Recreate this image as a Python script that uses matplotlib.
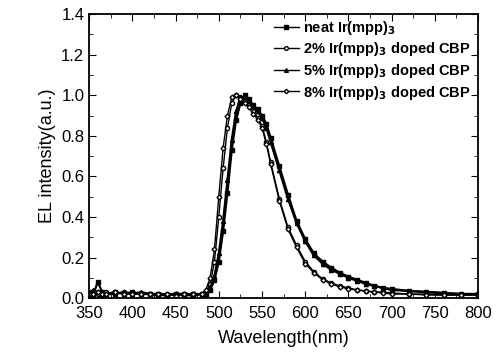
import matplotlib
matplotlib.use('Agg')
from matplotlib import pyplot as plt
from matplotlib.ticker import MultipleLocator

plt.rcParams['font.family'] = ['Liberation Sans', 'DejaVu Sans']

# wavelength grid (nm)
wavelength = [350, 355, 360, 365, 370, 380, 390, 400, 410, 420, 430, 440, 450, 460, 470, 480,
              485, 490, 495, 500, 505, 510, 515, 520, 525, 530, 535, 540, 545, 550, 555, 560,
              570, 580, 590, 600, 610, 620, 630, 640, 650, 660, 670, 680, 690, 700,
              720, 740, 760, 780, 800]

neat = [0.03, 0.02, 0.08, 0.03, 0.02, 0.03, 0.02, 0.03, 0.02, 0.02, 0.02, 0.01, 0.02, 0.02, 0.02, 0.02,
        0.02, 0.04, 0.09, 0.18, 0.33, 0.52, 0.73, 0.88, 0.96, 1.00, 0.98, 0.95, 0.93, 0.90, 0.86, 0.79,
        0.65, 0.51, 0.38, 0.29, 0.22, 0.18, 0.15, 0.125, 0.105, 0.09, 0.075, 0.06, 0.05, 0.045,
        0.035, 0.03, 0.025, 0.02, 0.02]
dop2 = [0.02, 0.03, 0.02, 0.01, 0.03, 0.02, 0.03, 0.02, 0.02, 0.02, 0.01, 0.02, 0.02, 0.01, 0.02, 0.02,
        0.03, 0.07, 0.18, 0.40, 0.64, 0.84, 0.96, 1.00, 0.99, 0.97, 0.95, 0.92, 0.89, 0.85, 0.77, 0.67,
        0.49, 0.35, 0.26, 0.18, 0.13, 0.095, 0.075, 0.06, 0.05, 0.04, 0.035, 0.03, 0.03, 0.025,
        0.02, 0.02, 0.015, 0.015, 0.015]
dop5 = [0.02, 0.04, 0.03, 0.02, 0.02, 0.02, 0.03, 0.02, 0.03, 0.02, 0.02, 0.02, 0.02, 0.02, 0.01, 0.02,
        0.02, 0.05, 0.11, 0.22, 0.38, 0.58, 0.78, 0.92, 0.99, 0.99, 0.97, 0.94, 0.92, 0.89, 0.84, 0.77,
        0.63, 0.49, 0.37, 0.28, 0.21, 0.17, 0.14, 0.12, 0.10, 0.085, 0.07, 0.06, 0.05, 0.04,
        0.035, 0.03, 0.025, 0.02, 0.02]
dop8 = [0.02, 0.02, 0.03, 0.02, 0.02, 0.03, 0.02, 0.02, 0.02, 0.02, 0.02, 0.02, 0.01, 0.02, 0.02, 0.02,
        0.04, 0.10, 0.24, 0.50, 0.74, 0.90, 0.99, 1.00, 0.98, 0.96, 0.94, 0.91, 0.88, 0.84, 0.76, 0.66,
        0.48, 0.34, 0.25, 0.17, 0.125, 0.09, 0.07, 0.055, 0.045, 0.04, 0.035, 0.03, 0.025, 0.02,
        0.02, 0.015, 0.015, 0.015, 0.015]

labels = ['neat Ir(mpp)$_\\mathbf{3}$',
          '2% Ir(mpp)$_\\mathbf{3}$ doped CBP',
          '5% Ir(mpp)$_\\mathbf{3}$ doped CBP',
          '8% Ir(mpp)$_\\mathbf{3}$ doped CBP']

fig = plt.figure(figsize=(4.98, 3.54), dpi=100)
ax = fig.add_axes([0.179, 0.158, 0.781, 0.802])

ax.plot(wavelength, neat, '-s', color='black', lw=1.6, ms=3, mfc='black', label=labels[0])
ax.plot(wavelength, dop2, '-o', color='black', lw=1.0, ms=3, mfc='white', label=labels[1])
ax.plot(wavelength, dop5, '-^', color='black', lw=1.6, ms=3, mfc='black', label=labels[2])
ax.plot(wavelength, dop8, '-D', color='black', lw=1.0, ms=2.5, mfc='white', label=labels[3])

ax.set_xlim(350, 800)
ax.set_ylim(0, 1.4)
ax.xaxis.set_major_locator(MultipleLocator(50))
ax.xaxis.set_minor_locator(MultipleLocator(25))
ax.yaxis.set_major_locator(MultipleLocator(0.2))
ax.yaxis.set_minor_locator(MultipleLocator(0.1))
ax.yaxis.set_major_formatter(plt.FormatStrFormatter('%.1f'))
ax.tick_params(which='both', direction='in', top=True, right=True, labelsize=12)
ax.tick_params(axis='x', which='major', pad=6)
ax.tick_params(which='major', length=5)
ax.tick_params(which='minor', length=3)
for s in ax.spines.values():
    s.set_linewidth(1.3)

ax.set_xlabel('Wavelength(nm)', fontsize=13, labelpad=6)
ax.set_ylabel('EL intensity(a.u.)', fontsize=13)

leg = ax.legend(loc='upper right', frameon=False, prop={'weight': 'bold', 'size': 10.5},
                handlelength=1.7, handletextpad=0.3, labelspacing=0.25, borderaxespad=0.1,
                markerscale=0.9, bbox_to_anchor=(1.0, 1.01))
for h in leg.legend_handles:
    h.set_linewidth(1.0)

plt.savefig('out.png', dpi=100)
